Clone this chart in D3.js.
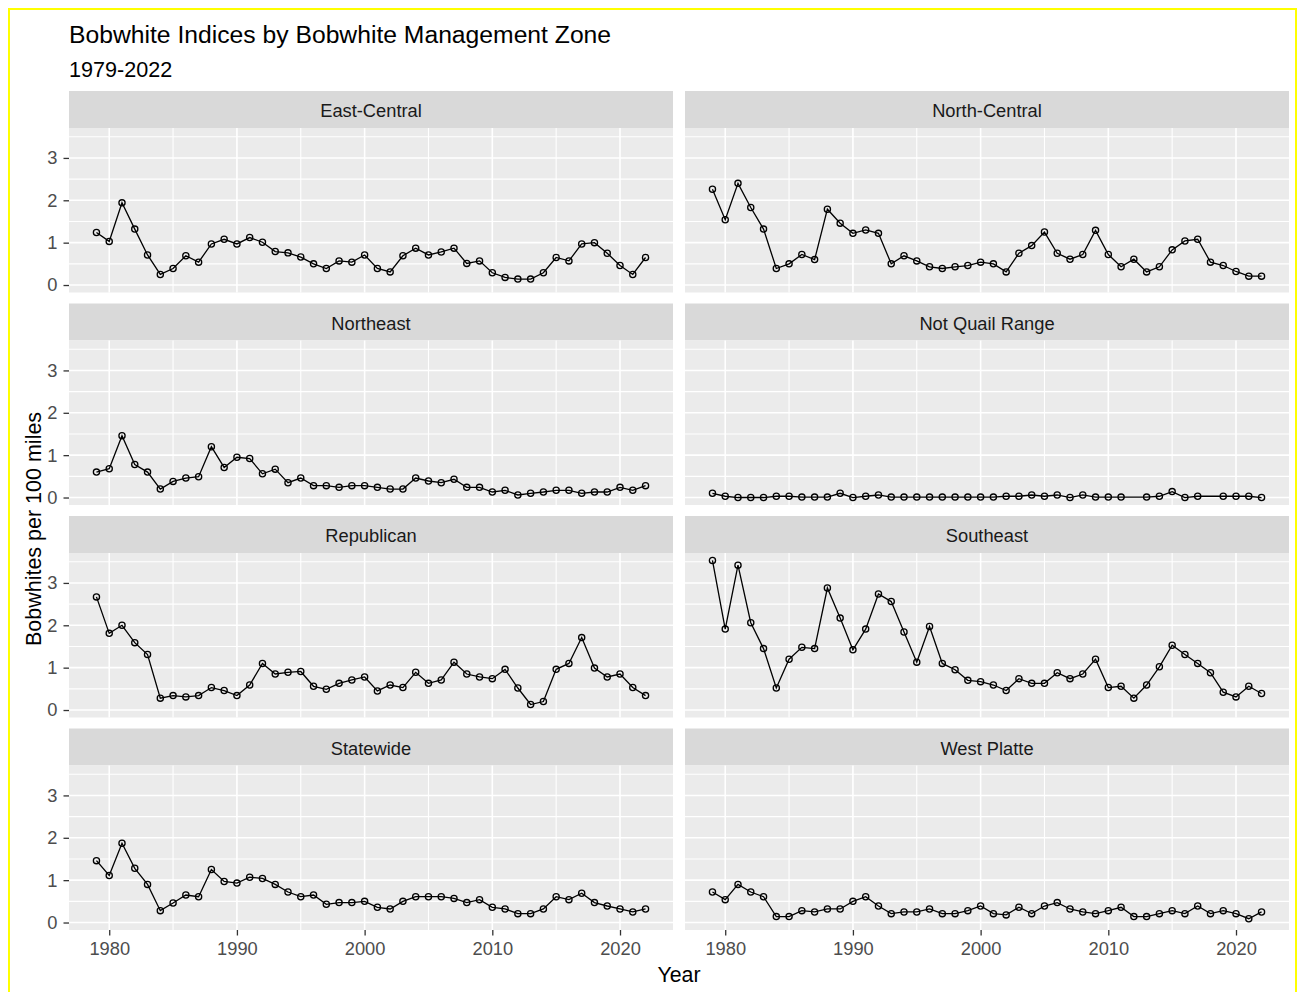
<!DOCTYPE html>
<html>
<head>
<meta charset="utf-8">
<script src="https://cdn.jsdelivr.net/npm/d3@7"></script>
<style>
  body { margin: 0; background: #fff; }
  svg text { font-family: "Liberation Sans", Arial, Helvetica, sans-serif; }
</style>
</head>
<body>
<div id="chart"></div>
<script>
// ---- data ----
const years = [1979, 1980, 1981, 1982, 1983, 1984, 1985, 1986, 1987, 1988,
  1989, 1990, 1991, 1992, 1993, 1994, 1995, 1996, 1997, 1998,
  1999, 2000, 2001, 2002, 2003, 2004, 2005, 2006, 2007, 2008,
  2009, 2010, 2011, 2012, 2013, 2014, 2015, 2016, 2017, 2018,
  2019, 2020, 2021, 2022];

const zones = ["East-Central", "North-Central", "Northeast", "Not Quail Range",
  "Republican", "Southeast", "Statewide", "West Platte"];

const eastCentral = [1.24, 1.03, 1.94, 1.32, 0.71, 0.25, 0.39, 0.69, 0.54, 0.97,
  1.08, 0.97, 1.12, 1.01, 0.79, 0.76, 0.66, 0.50, 0.39, 0.57,
  0.54, 0.71, 0.39, 0.31, 0.69, 0.87, 0.71, 0.78, 0.87, 0.51,
  0.57, 0.29, 0.18, 0.14, 0.14, 0.29, 0.65, 0.57, 0.97, 1.00,
  0.75, 0.46, 0.25, 0.65];
const northCentral = [2.26, 1.54, 2.40, 1.83, 1.32, 0.39, 0.50, 0.72, 0.60, 1.79,
  1.46, 1.22, 1.30, 1.22, 0.50, 0.69, 0.57, 0.43, 0.39, 0.43,
  0.46, 0.54, 0.50, 0.31, 0.75, 0.93, 1.25, 0.75, 0.61, 0.72,
  1.29, 0.72, 0.43, 0.61, 0.31, 0.43, 0.83, 1.04, 1.08, 0.54,
  0.46, 0.32, 0.21, 0.21];
const northeast = [0.60, 0.68, 1.46, 0.78, 0.60, 0.20, 0.38, 0.46, 0.49, 1.20,
  0.71, 0.95, 0.92, 0.56, 0.67, 0.35, 0.46, 0.28, 0.28, 0.24,
  0.28, 0.28, 0.24, 0.20, 0.20, 0.46, 0.39, 0.35, 0.43, 0.24,
  0.24, 0.13, 0.17, 0.06, 0.10, 0.13, 0.17, 0.17, 0.10, 0.13,
  0.13, 0.24, 0.17, 0.28];
const notQuailRange = [0.10, 0.03, 0.00, 0.00, 0.00, 0.03, 0.03, 0.01, 0.01, 0.01,
  0.10, 0.00, 0.03, 0.06, 0.01, 0.01, 0.01, 0.01, 0.01, 0.01,
  0.01, 0.01, 0.01, 0.03, 0.03, 0.06, 0.03, 0.06, 0.00, 0.06,
  0.01, 0.01, 0.01, null, 0.01, 0.03, 0.14, 0.00, 0.03, null,
  0.03, 0.03, 0.03, 0.00];
const republican = [2.67, 1.81, 2.00, 1.59, 1.31, 0.28, 0.34, 0.31, 0.34, 0.53,
  0.46, 0.34, 0.59, 1.10, 0.85, 0.89, 0.91, 0.56, 0.49, 0.63,
  0.71, 0.78, 0.45, 0.59, 0.53, 0.89, 0.63, 0.71, 1.13, 0.85,
  0.78, 0.74, 0.96, 0.52, 0.13, 0.20, 0.96, 1.10, 1.71, 0.99,
  0.78, 0.85, 0.53, 0.34];
const southeast = [3.53, 1.91, 3.42, 2.06, 1.45, 0.52, 1.20, 1.48, 1.45, 2.88,
  2.17, 1.42, 1.91, 2.74, 2.56, 1.84, 1.13, 1.97, 1.10, 0.95,
  0.70, 0.67, 0.59, 0.46, 0.74, 0.63, 0.63, 0.88, 0.74, 0.85,
  1.20, 0.53, 0.56, 0.28, 0.59, 1.02, 1.53, 1.31, 1.10, 0.88,
  0.42, 0.31, 0.56, 0.39];
const statewide = [1.46, 1.11, 1.87, 1.28, 0.90, 0.28, 0.46, 0.65, 0.61, 1.25,
  0.97, 0.93, 1.07, 1.04, 0.90, 0.72, 0.61, 0.65, 0.43, 0.47,
  0.47, 0.50, 0.36, 0.32, 0.50, 0.61, 0.61, 0.61, 0.57, 0.47,
  0.54, 0.36, 0.32, 0.21, 0.21, 0.32, 0.61, 0.54, 0.69, 0.47,
  0.39, 0.32, 0.25, 0.32];
const westPlatte = [0.72, 0.54, 0.90, 0.72, 0.61, 0.14, 0.14, 0.28, 0.25, 0.32,
  0.32, 0.50, 0.61, 0.39, 0.21, 0.25, 0.25, 0.32, 0.21, 0.21,
  0.28, 0.39, 0.21, 0.18, 0.36, 0.21, 0.39, 0.47, 0.32, 0.25,
  0.21, 0.28, 0.36, 0.14, 0.14, 0.21, 0.28, 0.21, 0.39, 0.21,
  0.28, 0.21, 0.09, 0.25];

const seriesByZone = [eastCentral, northCentral, northeast, notQuailRange,
  republican, southeast, statewide, westPlatte];

const xMajor = [1980, 1990, 2000, 2010, 2020];
const xMinor = [1985, 1995, 2005, 2015];
const yMajor = [0, 1, 2, 3];
const yMinor = [0.5, 1.5, 2.5, 3.5];

// ---- layout ----
const W = 1299, H = 992;
const panelX = 69, colW = 604, colGap = 12;
const panelY = 91, stripH = 37, plotH = 164.5, rowGap = 11;

const svg = d3.select("#chart").append("svg")
  .attr("width", W)
  .attr("height", H);

svg.append("rect")
  .attr("x", 9).attr("y", 9)
  .attr("width", 1287).attr("height", 992)
  .attr("fill", "none")
  .attr("stroke", "#ffff00")
  .attr("stroke-width", 2);

svg.append("text")
  .attr("x", panelX).attr("y", 43)
  .attr("font-size", "24.7px")
  .attr("fill", "#000")
  .text("Bobwhite Indices by Bobwhite Management Zone");

svg.append("text")
  .attr("x", panelX).attr("y", 77)
  .attr("font-size", "21.6px")
  .attr("fill", "#000")
  .text("1979-2022");

// scales shared by all panels (ggplot style 5% expansion)
const allVals = seriesByZone.flat().filter(v => v != null);
const xExt = d3.extent(years), xPad = (xExt[1] - xExt[0]) * 0.05;
const yExt = d3.extent(allVals), yPad = (yExt[1] - yExt[0]) * 0.05;

const x = d3.scaleLinear()
  .domain([xExt[0] - xPad, xExt[1] + xPad])
  .range([0, colW]);
const y = d3.scaleLinear()
  .domain([yExt[0] - yPad, yExt[1] + yPad])
  .range([plotH, 0]);

const line = d3.line()
  .x(d => x(d.year))
  .y(d => y(d.value));

zones.forEach((zone, i) => {
  const col = i % 2, row = Math.floor(i / 2);
  const px = panelX + col * (colW + colGap);
  const py = panelY + row * (stripH + plotH + rowGap);

  const g = svg.append("g").attr("transform", `translate(${px},${py})`);

  // strip
  g.append("rect")
    .attr("width", colW).attr("height", stripH)
    .attr("fill", "#d9d9d9");
  g.append("text")
    .attr("x", colW / 2).attr("y", stripH / 2 + 1.5)
    .attr("dy", "0.35em")
    .attr("text-anchor", "middle")
    .attr("font-size", "18.3px")
    .attr("fill", "#1a1a1a")
    .text(zone);

  const p = g.append("g").attr("transform", `translate(0,${stripH})`);
  p.append("rect")
    .attr("width", colW).attr("height", plotH)
    .attr("fill", "#ebebeb");

  // grid
  p.selectAll(".ymin").data(yMinor).enter().append("line")
    .attr("x1", 0).attr("x2", colW)
    .attr("y1", d => y(d)).attr("y2", d => y(d))
    .attr("stroke", "#fff").attr("stroke-width", 1.1);
  p.selectAll(".xmin").data(xMinor).enter().append("line")
    .attr("y1", 0).attr("y2", plotH)
    .attr("x1", d => x(d)).attr("x2", d => x(d))
    .attr("stroke", "#fff").attr("stroke-width", 1.1);
  p.selectAll(".ymaj").data(yMajor).enter().append("line")
    .attr("x1", 0).attr("x2", colW)
    .attr("y1", d => y(d)).attr("y2", d => y(d))
    .attr("stroke", "#fff").attr("stroke-width", 1.6);
  p.selectAll(".xmaj").data(xMajor).enter().append("line")
    .attr("y1", 0).attr("y2", plotH)
    .attr("x1", d => x(d)).attr("x2", d => x(d))
    .attr("stroke", "#fff").attr("stroke-width", 1.6);

  // data
  const pts = years.map((yr, j) => ({year: yr, value: seriesByZone[i][j]}))
    .filter(d => d.value != null);

  p.append("path")
    .datum(pts)
    .attr("d", line)
    .attr("fill", "none")
    .attr("stroke", "#000")
    .attr("stroke-width", 1.3);

  p.selectAll(".pt").data(pts).enter().append("circle")
    .attr("cx", d => x(d.year))
    .attr("cy", d => y(d.value))
    .attr("r", 3.1)
    .attr("fill", "none")
    .attr("stroke", "#000")
    .attr("stroke-width", 1.3);

  // axes
  if (col === 0) {
    const ay = p.append("g")
      .call(d3.axisLeft(y).tickValues(yMajor).tickSize(5.5).tickPadding(6).tickFormat(d3.format("d")));
    ay.select(".domain").remove();
    ay.selectAll("line").attr("stroke", "#333").attr("stroke-width", 1.3);
    ay.selectAll("text").attr("font-size", "18.3px").attr("fill", "#4d4d4d")
      .style("font-family", "'Liberation Sans', Arial, sans-serif");
  }
  if (row === 3) {
    const ax = p.append("g")
      .attr("transform", `translate(0,${plotH})`)
      .call(d3.axisBottom(x).tickValues(xMajor).tickSize(5.5).tickPadding(7).tickFormat(d3.format("d")));
    ax.select(".domain").remove();
    ax.selectAll("line").attr("stroke", "#333").attr("stroke-width", 1.3);
    ax.selectAll("text").attr("font-size", "18.3px").attr("fill", "#4d4d4d")
      .style("font-family", "'Liberation Sans', Arial, sans-serif");
  }
});

// axis titles
const plotBottom = panelY + 4 * (stripH + plotH) + 3 * rowGap;
svg.append("text")
  .attr("x", panelX + (2 * colW + colGap) / 2)
  .attr("y", 982)
  .attr("text-anchor", "middle")
  .attr("font-size", "21.3px")
  .attr("fill", "#000")
  .text("Year");

svg.append("text")
  .attr("transform", `translate(41,${(panelY + stripH + plotBottom) / 2}) rotate(-90)`)
  .attr("text-anchor", "middle")
  .attr("font-size", "21.5px")
  .attr("fill", "#000")
  .text("Bobwhites per 100 miles");
</script>
</body>
</html>
